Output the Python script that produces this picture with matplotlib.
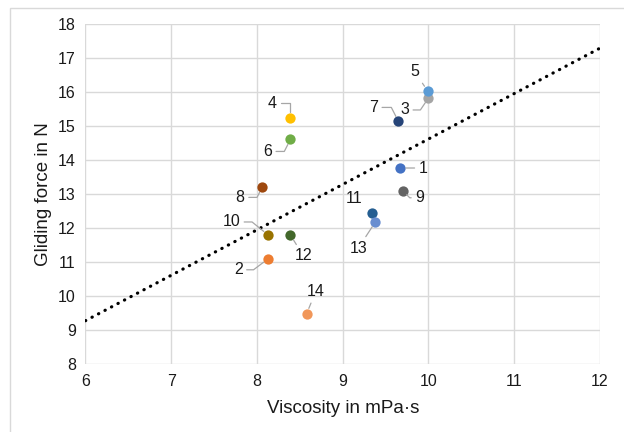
import numpy as np
import matplotlib
matplotlib.use("Agg")
import matplotlib.pyplot as plt
from matplotlib.patches import Rectangle

plt.rcParams['font.family'] = ['Liberation Sans', 'DejaVu Sans']

labels = ['1', '2', '3', '4', '5', '6', '7', '8', '9', '10', '11', '12', '13', '14']
viscosity = [9.67, 8.13, 10.0, 8.39, 9.99, 8.39, 9.65, 8.06, 9.70, 8.13, 9.34, 8.39, 9.38, 8.58]
force = [13.77, 11.10, 15.83, 15.24, 16.04, 14.61, 15.14, 13.20, 13.10, 11.80, 12.45, 11.80, 12.18, 9.49]
colors = ['#4472C4', '#ED7D31', '#A5A5A5', '#FFC000', '#5B9BD5', '#70AD47', '#264478',
          '#9E480E', '#636363', '#997300', '#255E91', '#43682B', '#698ED0', '#F1975A']

x_ticks = [6, 7, 8, 9, 10, 11, 12]
y_ticks = [8, 9, 10, 11, 12, 13, 14, 15, 16, 17, 18]

# Position der Beschriftungen (Pixel relativ zum Punkt) und Winkel der Fuehrungslinie
lab_pos = {
    '1': ((23, 0), None), '2': ((-30, -11), 37), '3': ((-24, -12), 56),
    '4': ((-18, 15), 90), '5': ((-13, 19), None), '6': ((-23, -12), 63),
    '7': ((-25, 14), -63), '8': ((-22, -10), 63), '9': ((17, -7), -45),
    '10': ((-37, 13), -39), '11': ((-18, 14), 'none'), '12': ((13, -21), None),
    '13': ((-17, -26), None), '14': ((9, 22), None),
}

fig = plt.figure(figsize=(6.24, 4.32), dpi=100)
ax = fig.add_axes([0.137, 0.157, 0.8245, 0.787])

# Rahmen des Diagramms
fig.patches.append(Rectangle((10 / 624, -0.2), 1.2, 1.2 - 8 / 432, transform=fig.transFigure,
                             fill=False, edgecolor='#d9d9d9', lw=1.0))

# Trendlinie (lineare Regression)
p = np.polyfit(viscosity, force, deg=1)
xt = np.array([x_ticks[0], x_ticks[-1]])
ax.plot(xt, np.polyval(p, xt), color='black', lw=2.3,
        linestyle=(0, (0.1, 2.2)), dash_capstyle='round', zorder=3)

for i in range(len(labels)):
    ax.scatter(viscosity[i], force[i], s=55, color=colors[i], zorder=4, linewidths=0)
    off, ang = lab_pos[labels[i]]
    if ang == 'none':
        arrow = None
    elif ang is None:
        arrow = dict(arrowstyle='-', color='#a6a6a6', lw=0.9, shrinkA=1, shrinkB=4)
    else:
        arrow = dict(arrowstyle='-', color='#a6a6a6', lw=0.9, shrinkA=1, shrinkB=4,
                     connectionstyle='angle,angleA=0,angleB=%d,rad=0' % ang)
    ax.annotate(labels[i], (viscosity[i], force[i]), xytext=off, textcoords='offset pixels',
                ha='center', va='center', fontsize=11.5, color='#1a1a1a', arrowprops=arrow, zorder=5)

ax.set_xlim(x_ticks[0], x_ticks[-1])
ax.set_ylim(y_ticks[0], y_ticks[-1])
ax.set_xticks(x_ticks)
ax.set_yticks(y_ticks)
ax.grid(True, color='#d9d9d9', lw=1.0)
ax.set_axisbelow(True)
for s in ax.spines.values():
    s.set_visible(False)
ax.tick_params(length=0, labelsize=11.5, colors='#1a1a1a', pad=7)
ax.set_xlabel('Viscosity in mPa·s', fontsize=13.5, color='#1a1a1a', labelpad=8)
ax.set_ylabel('Gliding force in N', fontsize=13.5, color='#1a1a1a', labelpad=4)

fig.savefig('out.png', dpi=100)
